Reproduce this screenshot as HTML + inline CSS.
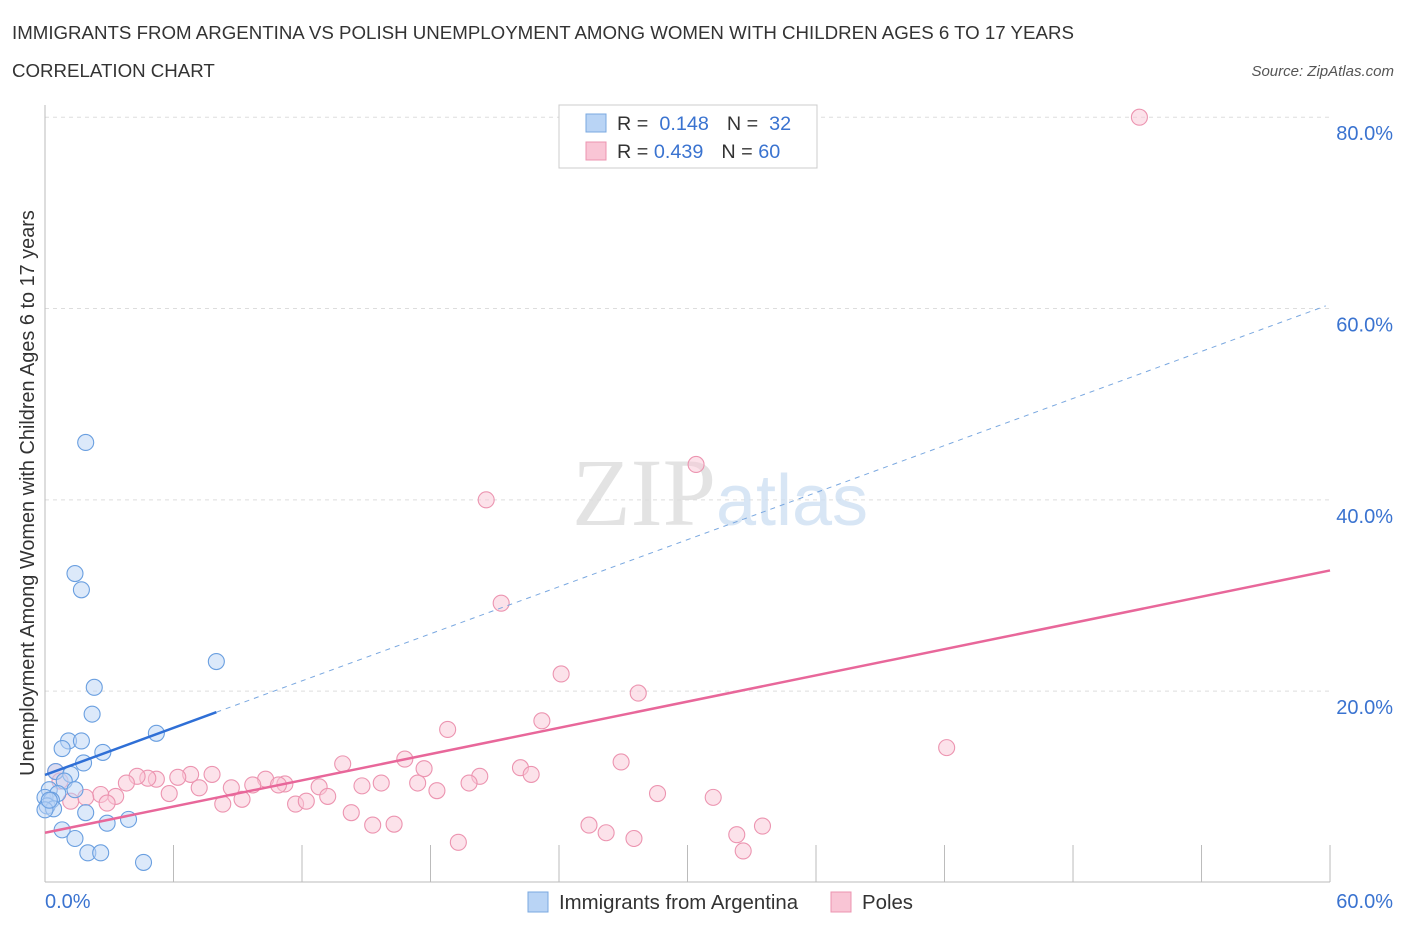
<!DOCTYPE html>
<html><head><meta charset="utf-8"><style>
body{margin:0;background:#fff;font-family:"Liberation Sans",sans-serif;}
</style></head><body>
<svg width="1406" height="930" xmlns="http://www.w3.org/2000/svg" font-family="Liberation Sans, sans-serif">
<text x="12" y="39" font-size="18.7" fill="#333">IMMIGRANTS FROM ARGENTINA VS POLISH UNEMPLOYMENT AMONG WOMEN WITH CHILDREN AGES 6 TO 17 YEARS</text>
<text x="12" y="77" font-size="18.7" fill="#333">CORRELATION CHART</text>
<text x="1394" y="76" font-size="15" fill="#555" font-style="italic" text-anchor="end">Source: ZipAtlas.com</text>
<g id="grid"></g>
<text x="720" y="525" font-size="96" fill="#ddd" text-anchor="middle" font-family="Liberation Serif, serif" opacity="0.8">ZIP<tspan fill="#cfe0f3" font-family="Liberation Sans, sans-serif" font-size="72">atlas</tspan></text>
<g id="marks"></g>
<g>
<rect x="559" y="105" width="258" height="63" fill="#fff" stroke="#ccc"/>
<rect x="586" y="114" width="20" height="18" fill="#b9d4f5" stroke="#7aa8e0"/>
<rect x="586" y="142" width="20" height="18" fill="#f9c5d5" stroke="#ec94b0"/>
<text x="617" y="130" font-size="19.8" fill="#333">R = <tspan fill="#3a73d0">&#160;0.148</tspan><tspan dx="18">N = </tspan><tspan fill="#3a73d0">&#160;32</tspan></text>
<text x="617" y="158" font-size="19.8" fill="#333">R = <tspan fill="#3a73d0">0.439</tspan><tspan dx="18">N = </tspan><tspan fill="#3a73d0">60</tspan></text>
</g>
<g>
<rect x="528" y="892" width="20" height="20" fill="#b9d4f5" stroke="#7aa8e0"/>
<text x="559" y="909" font-size="20.4" fill="#333">Immigrants from Argentina</text>
<rect x="831" y="892" width="20" height="20" fill="#f9c5d5" stroke="#ec94b0"/>
<text x="862" y="909" font-size="20.4" fill="#333">Poles</text>
</g>
</svg>
<script>
const blueX=[1.9,1.4,1.7,8,2.3,2.2,5.2,1.1,1.7,0.8,2.7,1.8,0.5,1.2,0.9,0.2,0.6,1.4,0,0.3,0.1,0.4,0,1.9,2.9,3.9,0.8,1.4,2,2.6,4.6,0.2];
const blueY=[46,32.3,30.6,23.1,20.4,17.6,15.6,14.8,14.8,14,13.6,12.5,11.6,11.3,10.6,9.7,9.3,9.7,8.9,8.6,8,7.7,7.6,7.3,6.2,6.6,5.5,4.6,3.1,3.1,2.1,8.6];
const pinkX=[51.1,30.4,20.6,21.3,24.1,27.7,42.1,23.2,18.8,16.8,13.9,17.7,22.2,22.7,20.3,7.8,6.8,6.2,5.2,4.8,4.3,3.8,10.3,9.7,11.2,10.9,8.7,12.8,14.8,15.7,17.4,19.8,26.9,7.2,5.8,3.3,2.6,1.9,28.6,31.2,9.2,13.2,18.3,11.7,12.2,8.3,2.9,0.5,0.7,14.3,15.3,16.3,25.4,26.2,27.5,32.3,33.5,32.6,19.3,1.2];
const pinkY=[80,43.7,40,29.2,21.8,19.8,14.1,16.9,16,12.9,12.4,11.9,12,11.3,11.1,11.3,11.3,11,10.8,10.9,11.1,10.4,10.8,10.2,10.3,10.2,9.9,10,10.1,10.4,10.4,10.4,12.6,9.9,9.3,9,9.2,8.9,9.3,8.9,8.7,9,9.6,8.2,8.5,8.2,8.3,11.6,10.6,7.3,6,6.1,6,5.2,4.6,5,5.9,3.3,4.2,8.5];
const blueLine=[11.24,0.82], pinkLine=[5.2,0.457];
const xTicks=["0.0%","60.0%"], yTicks=[20,40,60,80];
const NS="http://www.w3.org/2000/svg";
const X=v=>45+v*21.417, Y=v=>882.5-v*9.566;
function el(t,a,p){const e=document.createElementNS(NS,t);for(const k in a)e.setAttribute(k,a[k]);p.appendChild(e);return e;}
const g=document.getElementById('grid'), m=document.getElementById('marks');
yTicks.forEach(v=>{
 const l=el('line',{x1:45,x2:1330,y1:Y(v),y2:Y(v),stroke:'#ddd','stroke-dasharray':'4,4'},g);
 
 
 const t=el('text',{x:1393,y:Y(v)+23,'font-size':20,fill:'#3a73d0','text-anchor':'end'},g);t.textContent=v.toFixed(1)+'%';
 
 
});
const ax=el('line',{x1:45,x2:45,y1:105,y2:882,stroke:'#bbb'},g);


const bx=el('line',{x1:45,x2:1330,y1:882,y2:882,stroke:'#bbb'},g);


for(let i=1;i<=10;i++){const t=el('line',{x1:X(i*6),x2:X(i*6),y1:845,y2:882,stroke:'#bbb'},g);
 
 }
[[0,'start',45],[1,'end',1393]].forEach(([i,a,x])=>{const t=el('text',{x:x,y:908,'font-size':20,fill:'#3a73d0','text-anchor':a},g);t.textContent=xTicks[i];
 
 });
const yt=el('text',{x:0,y:0,'font-size':19.9,fill:'#333','text-anchor':'middle',transform:'translate(34,493) rotate(-90)'},g);
yt.textContent='Unemployment Among Women with Children Ages 6 to 17 years';


pinkX.forEach((x,i)=>{const c=el('circle',{cx:X(x),cy:Y(pinkY[i]),r:8,fill:'#f9c5d5','fill-opacity':0.5,stroke:'#ec94b0','stroke-width':1.1},m);
 
 });
blueX.forEach((x,i)=>{const c=el('circle',{cx:X(x),cy:Y(blueY[i]),r:8,fill:'#b9d4f5','fill-opacity':0.5,stroke:'#6a9fe0','stroke-width':1.1},m);
 
 });
const f=(l,x)=>l[0]+l[1]*x;
let d=el('line',{x1:X(8),y1:Y(f(blueLine,8)),x2:X(59.8),y2:Y(f(blueLine,59.8)),stroke:'#7aa8e0','stroke-width':1,'stroke-dasharray':'5,5'},m);


d=el('line',{x1:X(0),y1:Y(f(blueLine,0)),x2:X(8),y2:Y(f(blueLine,8)),stroke:'#2f6fd6','stroke-width':2.5},m);


d=el('line',{x1:X(0),y1:Y(f(pinkLine,0)),x2:X(60),y2:Y(f(pinkLine,60)),stroke:'#e8679a','stroke-width':2.5},m);


</script>
</body></html>
